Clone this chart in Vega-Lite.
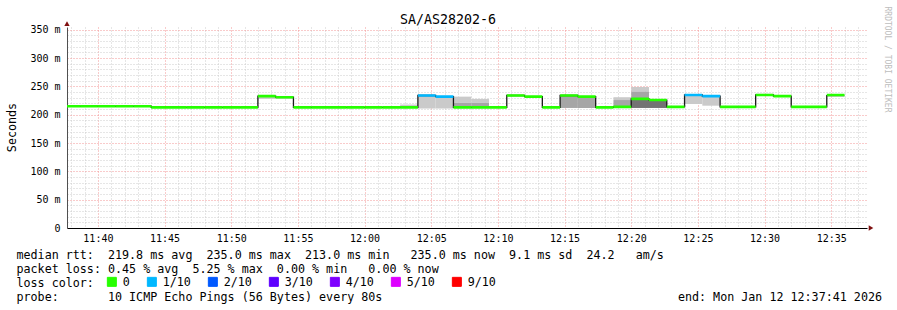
{
  "$schema": "https://vega.github.io/schema/vega-lite/v6.json",
  "width": 800,
  "height": 201,
  "autosize": "none",
  "padding": {"left": 67, "top": 27, "right": 30, "bottom": 82},
  "background": "white",
  "config": {
    "font": "DejaVu Sans Mono",
    "view": {"stroke": null},
    "axis": {"labelFont": "DejaVu Sans Mono", "titleFont": "DejaVu Sans Mono", "labelColor": "black", "titleColor": "black", "titleFontWeight": "normal"},
    "axisX": {"orient": "bottom", "tickCount": 60, "format": "%H:%M", "labelExpr": "minutes(datum.value) % 5 === 0 ? datum.label : ''",
      "grid": true, "gridColor": {"condition": {"test": "minutes(datum.value) % 5 === 0", "value": "#f29696"}, "value": "#cccccc"}, "gridDash": [1, 2],
      "ticks": false, "domain": true, "domainColor": "#000000", "labelFontSize": 10, "labelPadding": 5, "labelFlush": false, "labelOverlap": false,
      "titleX": -51, "titleY": 30, "titleAlign": "left", "titleAnchor": "start", "titleBaseline": "alphabetic", "titleFontSize": 11.7, "titleLineHeight": 14}
  },
  "title": {
    "text": "SA/AS28202-6",
    "font": "DejaVu Sans Mono",
    "fontSize": 13.3,
    "fontWeight": "normal",
    "color": "black",
    "anchor": "middle",
    "baseline": "alphabetic",
    "dx": -19,
    "dy": 35,
    "offset": 4
  },
  "datasets": {
    "rtt": [
      {"t": "2026-01-12T11:37:20", "t2": "2026-01-12T11:38:40", "med": 215, "loss": "0"},
      {"t": "2026-01-12T11:38:40", "t2": "2026-01-12T11:40:00", "med": 215, "loss": "0"},
      {"t": "2026-01-12T11:40:00", "t2": "2026-01-12T11:41:20", "med": 215, "loss": "0"},
      {"t": "2026-01-12T11:41:20", "t2": "2026-01-12T11:42:40", "med": 215, "loss": "0"},
      {"t": "2026-01-12T11:42:40", "t2": "2026-01-12T11:44:00", "med": 215, "loss": "0"},
      {"t": "2026-01-12T11:44:00", "t2": "2026-01-12T11:45:20", "med": 213, "loss": "0"},
      {"t": "2026-01-12T11:45:20", "t2": "2026-01-12T11:46:40", "med": 213, "loss": "0"},
      {"t": "2026-01-12T11:46:40", "t2": "2026-01-12T11:48:00", "med": 213, "loss": "0"},
      {"t": "2026-01-12T11:48:00", "t2": "2026-01-12T11:49:20", "med": 213, "loss": "0"},
      {"t": "2026-01-12T11:49:20", "t2": "2026-01-12T11:50:40", "med": 213, "loss": "0"},
      {"t": "2026-01-12T11:50:40", "t2": "2026-01-12T11:52:00", "med": 213, "loss": "0"},
      {"t": "2026-01-12T11:52:00", "t2": "2026-01-12T11:53:20", "med": 233, "loss": "0"},
      {"t": "2026-01-12T11:53:20", "t2": "2026-01-12T11:54:40", "med": 231, "loss": "0"},
      {"t": "2026-01-12T11:54:40", "t2": "2026-01-12T11:56:00", "med": 213, "loss": "0"},
      {"t": "2026-01-12T11:56:00", "t2": "2026-01-12T11:57:20", "med": 213, "loss": "0"},
      {"t": "2026-01-12T11:57:20", "t2": "2026-01-12T11:58:40", "med": 213, "loss": "0"},
      {"t": "2026-01-12T11:58:40", "t2": "2026-01-12T12:00:00", "med": 213, "loss": "0"},
      {"t": "2026-01-12T12:00:00", "t2": "2026-01-12T12:01:20", "med": 213, "loss": "0"},
      {"t": "2026-01-12T12:01:20", "t2": "2026-01-12T12:02:40", "med": 213, "loss": "0"},
      {"t": "2026-01-12T12:02:40", "t2": "2026-01-12T12:04:00", "med": 213, "loss": "0"},
      {"t": "2026-01-12T12:04:00", "t2": "2026-01-12T12:05:20", "med": 234, "loss": "1/10"},
      {"t": "2026-01-12T12:05:20", "t2": "2026-01-12T12:06:40", "med": 232, "loss": "1/10"},
      {"t": "2026-01-12T12:06:40", "t2": "2026-01-12T12:08:00", "med": 213, "loss": "0"},
      {"t": "2026-01-12T12:08:00", "t2": "2026-01-12T12:09:20", "med": 213, "loss": "0"},
      {"t": "2026-01-12T12:09:20", "t2": "2026-01-12T12:10:40", "med": 213, "loss": "0"},
      {"t": "2026-01-12T12:10:40", "t2": "2026-01-12T12:12:00", "med": 234, "loss": "0"},
      {"t": "2026-01-12T12:12:00", "t2": "2026-01-12T12:13:20", "med": 232, "loss": "0"},
      {"t": "2026-01-12T12:13:20", "t2": "2026-01-12T12:14:40", "med": 213, "loss": "0"},
      {"t": "2026-01-12T12:14:40", "t2": "2026-01-12T12:16:00", "med": 234, "loss": "0"},
      {"t": "2026-01-12T12:16:00", "t2": "2026-01-12T12:17:20", "med": 232, "loss": "0"},
      {"t": "2026-01-12T12:17:20", "t2": "2026-01-12T12:18:40", "med": 213, "loss": "0"},
      {"t": "2026-01-12T12:18:40", "t2": "2026-01-12T12:20:00", "med": 214, "loss": "0"},
      {"t": "2026-01-12T12:20:00", "t2": "2026-01-12T12:21:20", "med": 228, "loss": "0"},
      {"t": "2026-01-12T12:21:20", "t2": "2026-01-12T12:22:40", "med": 226, "loss": "0"},
      {"t": "2026-01-12T12:22:40", "t2": "2026-01-12T12:24:00", "med": 214, "loss": "0"},
      {"t": "2026-01-12T12:24:00", "t2": "2026-01-12T12:25:20", "med": 235, "loss": "1/10"},
      {"t": "2026-01-12T12:25:20", "t2": "2026-01-12T12:26:40", "med": 233, "loss": "1/10"},
      {"t": "2026-01-12T12:26:40", "t2": "2026-01-12T12:28:00", "med": 214, "loss": "0"},
      {"t": "2026-01-12T12:28:00", "t2": "2026-01-12T12:29:20", "med": 214, "loss": "0"},
      {"t": "2026-01-12T12:29:20", "t2": "2026-01-12T12:30:40", "med": 235, "loss": "0"},
      {"t": "2026-01-12T12:30:40", "t2": "2026-01-12T12:32:00", "med": 233, "loss": "0"},
      {"t": "2026-01-12T12:32:00", "t2": "2026-01-12T12:33:20", "med": 214, "loss": "0"},
      {"t": "2026-01-12T12:33:20", "t2": "2026-01-12T12:34:40", "med": 214, "loss": "0"},
      {"t": "2026-01-12T12:34:40", "t2": "2026-01-12T12:36:00", "med": 235, "loss": "0"}
    ],
    "smoke": [
      {"t": "2026-01-12T11:52:00", "t2": "2026-01-12T11:53:20", "lo": 228, "hi": 233, "shade": "light"},
      {"t": "2026-01-12T11:53:20", "t2": "2026-01-12T11:54:40", "lo": 228, "hi": 231, "shade": "light"},
      {"t": "2026-01-12T12:02:40", "t2": "2026-01-12T12:04:00", "lo": 213, "hi": 218, "shade": "light"},
      {"t": "2026-01-12T12:04:00", "t2": "2026-01-12T12:05:20", "lo": 211, "hi": 234, "shade": "light"},
      {"t": "2026-01-12T12:05:20", "t2": "2026-01-12T12:06:40", "lo": 211, "hi": 232, "shade": "light"},
      {"t": "2026-01-12T12:06:40", "t2": "2026-01-12T12:08:00", "lo": 221, "hi": 232, "shade": "light"},
      {"t": "2026-01-12T12:06:40", "t2": "2026-01-12T12:08:00", "lo": 213, "hi": 221, "shade": "mid"},
      {"t": "2026-01-12T12:08:00", "t2": "2026-01-12T12:09:20", "lo": 221, "hi": 228, "shade": "light"},
      {"t": "2026-01-12T12:08:00", "t2": "2026-01-12T12:09:20", "lo": 213, "hi": 221, "shade": "mid"},
      {"t": "2026-01-12T12:14:40", "t2": "2026-01-12T12:16:00", "lo": 212, "hi": 234, "shade": "mid"},
      {"t": "2026-01-12T12:16:00", "t2": "2026-01-12T12:17:20", "lo": 212, "hi": 232, "shade": "mid"},
      {"t": "2026-01-12T12:18:40", "t2": "2026-01-12T12:20:00", "lo": 226, "hi": 231, "shade": "light"},
      {"t": "2026-01-12T12:18:40", "t2": "2026-01-12T12:20:00", "lo": 214, "hi": 226, "shade": "mid"},
      {"t": "2026-01-12T12:20:00", "t2": "2026-01-12T12:21:20", "lo": 241, "hi": 249, "shade": "light"},
      {"t": "2026-01-12T12:20:00", "t2": "2026-01-12T12:21:20", "lo": 228, "hi": 241, "shade": "mid"},
      {"t": "2026-01-12T12:20:00", "t2": "2026-01-12T12:21:20", "lo": 212, "hi": 228, "shade": "dark"},
      {"t": "2026-01-12T12:21:20", "t2": "2026-01-12T12:22:40", "lo": 212, "hi": 226, "shade": "dark"},
      {"t": "2026-01-12T12:24:00", "t2": "2026-01-12T12:25:20", "lo": 219, "hi": 235, "shade": "light"},
      {"t": "2026-01-12T12:25:20", "t2": "2026-01-12T12:26:40", "lo": 216, "hi": 233, "shade": "light"},
      {"t": "2026-01-12T12:29:20", "t2": "2026-01-12T12:30:40", "lo": 234, "hi": 237, "shade": "light"},
      {"t": "2026-01-12T12:34:40", "t2": "2026-01-12T12:36:00", "lo": 232, "hi": 235, "shade": "mid"}
    ]
  },
  "resolve": {"axis": {"y": "independent"}},
  "layer": [
    {
      "data": {"name": "smoke"},
      "mark": {"type": "rect", "clip": true},
      "encoding": {
        "x": {"field": "t", "type": "temporal",
          "scale": {"domain": ["2026-01-12T11:37:41", "2026-01-12T12:37:41"], "nice": false},
          "title": ["median rtt:\u00a0\u00a0219.8 ms avg\u00a0\u00a0235.0 ms max\u00a0\u00a0213.0 ms min\u00a0\u00a0\u00a0235.0 ms now\u00a0\u00a09.1 ms sd\u00a0\u00a024.2\u00a0\u00a0\u00a0am/s", "packet loss: 0.45 % avg\u00a0\u00a05.25 % max\u00a0\u00a00.00 % min\u00a0\u00a0\u00a00.00 % now", "loss color:", "probe:\u00a0\u00a0\u00a0\u00a0\u00a0\u00a0\u00a010 ICMP Echo Pings (56 Bytes) every 80s\u00a0\u00a0\u00a0\u00a0\u00a0\u00a0\u00a0\u00a0\u00a0\u00a0\u00a0\u00a0\u00a0\u00a0\u00a0\u00a0\u00a0\u00a0\u00a0\u00a0\u00a0\u00a0\u00a0\u00a0\u00a0\u00a0\u00a0\u00a0\u00a0\u00a0\u00a0\u00a0\u00a0\u00a0\u00a0\u00a0\u00a0\u00a0\u00a0\u00a0\u00a0\u00a0end: Mon Jan 12 12:37:41 2026"]},
        "x2": {"field": "t2"},
        "y": {"field": "lo", "type": "quantitative",
          "scale": {"domain": [0, 355], "nice": false, "zero": true},
          "axis": {"orient": "right", "grid": false, "labels": false, "ticks": false, "domain": false, "title": "RRDTOOL / TOBI OETIKER", "titleAngle": 90, "titleX": 19, "titleY": 32, "titleAlign": "center", "titleBaseline": "middle", "titleFontSize": 8, "titleColor": "#bdbdbd"}},
        "y2": {"field": "hi"},
        "fill": {"field": "shade", "type": "nominal", "scale": {"domain": ["light", "mid", "dark"], "range": ["#cacaca", "#a6a6a6", "#737373"]}, "legend": null}
      }
    },
    {
      "data": {"name": "rtt"},
      "mark": {"type": "line", "interpolate": "step-after", "color": "#1a1a1a", "strokeWidth": 1.3, "clip": true},
      "encoding": {
        "x": {"field": "t", "type": "temporal",
          "scale": {"domain": ["2026-01-12T11:37:41", "2026-01-12T12:37:41"], "nice": false},
          "title": ["median rtt:\u00a0\u00a0219.8 ms avg\u00a0\u00a0235.0 ms max\u00a0\u00a0213.0 ms min\u00a0\u00a0\u00a0235.0 ms now\u00a0\u00a09.1 ms sd\u00a0\u00a024.2\u00a0\u00a0\u00a0am/s", "packet loss: 0.45 % avg\u00a0\u00a05.25 % max\u00a0\u00a00.00 % min\u00a0\u00a0\u00a00.00 % now", "loss color:", "probe:\u00a0\u00a0\u00a0\u00a0\u00a0\u00a0\u00a010 ICMP Echo Pings (56 Bytes) every 80s\u00a0\u00a0\u00a0\u00a0\u00a0\u00a0\u00a0\u00a0\u00a0\u00a0\u00a0\u00a0\u00a0\u00a0\u00a0\u00a0\u00a0\u00a0\u00a0\u00a0\u00a0\u00a0\u00a0\u00a0\u00a0\u00a0\u00a0\u00a0\u00a0\u00a0\u00a0\u00a0\u00a0\u00a0\u00a0\u00a0\u00a0\u00a0\u00a0\u00a0\u00a0\u00a0end: Mon Jan 12 12:37:41 2026"]},
        "y": {
          "field": "med", "type": "quantitative",
          "scale": {"domain": [0, 355], "nice": false, "zero": true},
          "axis": {"orient": "left", "values": [0, 10, 20, 30, 40, 50, 60, 70, 80, 90, 100, 110, 120, 130, 140, 150, 160, 170, 180, 190, 200, 210, 220, 230, 240, 250, 260, 270, 280, 290, 300, 310, 320, 330, 340, 350],
            "labelExpr": "datum.value % 50 === 0 ? (datum.value === 0 ? '0' : datum.value + ' m') : ''", "labelOverlap": false,
            "grid": true, "gridColor": {"condition": {"test": "datum.value % 50 === 0", "value": "#f29696"}, "value": "#cccccc"}, "gridDash": [1, 2],
            "ticks": false, "domain": true, "domainColor": "#505050", "labelFontSize": 10, "labelPadding": 7,
            "title": "Seconds", "titleX": -56, "titleY": 100, "titleAngle": -90, "titleAlign": "center", "titleBaseline": "middle", "titleFontSize": 11.7}
        }
      }
    },
    {
      "data": {"name": "rtt"},
      "mark": {"type": "rect", "strokeWidth": 2.6, "clip": true},
      "encoding": {
        "x": {"field": "t", "type": "temporal",
          "scale": {"domain": ["2026-01-12T11:37:41", "2026-01-12T12:37:41"], "nice": false},
          "title": ["median rtt:\u00a0\u00a0219.8 ms avg\u00a0\u00a0235.0 ms max\u00a0\u00a0213.0 ms min\u00a0\u00a0\u00a0235.0 ms now\u00a0\u00a09.1 ms sd\u00a0\u00a024.2\u00a0\u00a0\u00a0am/s", "packet loss: 0.45 % avg\u00a0\u00a05.25 % max\u00a0\u00a00.00 % min\u00a0\u00a0\u00a00.00 % now", "loss color:", "probe:\u00a0\u00a0\u00a0\u00a0\u00a0\u00a0\u00a010 ICMP Echo Pings (56 Bytes) every 80s\u00a0\u00a0\u00a0\u00a0\u00a0\u00a0\u00a0\u00a0\u00a0\u00a0\u00a0\u00a0\u00a0\u00a0\u00a0\u00a0\u00a0\u00a0\u00a0\u00a0\u00a0\u00a0\u00a0\u00a0\u00a0\u00a0\u00a0\u00a0\u00a0\u00a0\u00a0\u00a0\u00a0\u00a0\u00a0\u00a0\u00a0\u00a0\u00a0\u00a0\u00a0\u00a0end: Mon Jan 12 12:37:41 2026"]},
        "x2": {"field": "t2"},
        "y": {"field": "med", "type": "quantitative", "axis": null, "scale": {"domain": [0, 355], "nice": false, "zero": true}},
        "y2": {"field": "med"},
        "color": {
          "field": "loss", "type": "nominal",
          "scale": {"domain": ["0", "1/10", "2/10", "3/10", "4/10", "5/10", "9/10"], "range": ["#26ff00", "#00b8ff", "#0059ff", "#5e00ff", "#7e00ff", "#dd00ff", "#ff0000"]},
          "legend": {"orient": "none", "legendX": 39, "legendY": 249, "direction": "horizontal", "columns": 7, "gridAlign": "none", "title": null, "symbolType": "square", "symbolSize": 81, "symbolStrokeColor": "black", "symbolStrokeWidth": 1, "labelFont": "DejaVu Sans Mono", "labelFontSize": 11.7, "labelColor": "black", "labelOffset": 5, "columnPadding": 15, "padding": 0,
            "encode": {"symbols": {"update": {"stroke": {"value": "black"}, "strokeWidth": {"value": 1}}}}}
        },
        "stroke": {
          "field": "loss", "type": "nominal",
          "scale": {"domain": ["0", "1/10", "2/10", "3/10", "4/10", "5/10", "9/10"], "range": ["#26ff00", "#00b8ff", "#0059ff", "#5e00ff", "#7e00ff", "#dd00ff", "#ff0000"]},
          "legend": null
        }
      }
    },
    {
      "data": {"values": [{}]},
      "mark": {"type": "point", "shape": "triangle-up", "filled": true, "color": "#7f1010", "size": 28, "opacity": 1, "clip": false},
      "encoding": {
        "x": {"datum": {"expr": "datetime(2026, 0, 12, 11, 37, 41)"}, "type": "temporal",
          "scale": {"domain": ["2026-01-12T11:37:41", "2026-01-12T12:37:41"], "nice": false},
          "title": ["median rtt:\u00a0\u00a0219.8 ms avg\u00a0\u00a0235.0 ms max\u00a0\u00a0213.0 ms min\u00a0\u00a0\u00a0235.0 ms now\u00a0\u00a09.1 ms sd\u00a0\u00a024.2\u00a0\u00a0\u00a0am/s", "packet loss: 0.45 % avg\u00a0\u00a05.25 % max\u00a0\u00a00.00 % min\u00a0\u00a0\u00a00.00 % now", "loss color:", "probe:\u00a0\u00a0\u00a0\u00a0\u00a0\u00a0\u00a010 ICMP Echo Pings (56 Bytes) every 80s\u00a0\u00a0\u00a0\u00a0\u00a0\u00a0\u00a0\u00a0\u00a0\u00a0\u00a0\u00a0\u00a0\u00a0\u00a0\u00a0\u00a0\u00a0\u00a0\u00a0\u00a0\u00a0\u00a0\u00a0\u00a0\u00a0\u00a0\u00a0\u00a0\u00a0\u00a0\u00a0\u00a0\u00a0\u00a0\u00a0\u00a0\u00a0\u00a0\u00a0\u00a0\u00a0end: Mon Jan 12 12:37:41 2026"]},
        "y": {"datum": 361, "type": "quantitative", "axis": null, "scale": {"domain": [0, 355], "nice": false, "zero": true}}
      }
    },
    {
      "data": {"values": [{}]},
      "mark": {"type": "point", "shape": "triangle-right", "filled": true, "color": "#7f1010", "size": 28, "opacity": 1, "clip": false},
      "encoding": {
        "x": {"datum": {"expr": "datetime(2026, 0, 12, 12, 37, 59)"}, "type": "temporal",
          "scale": {"domain": ["2026-01-12T11:37:41", "2026-01-12T12:37:41"], "nice": false},
          "title": ["median rtt:\u00a0\u00a0219.8 ms avg\u00a0\u00a0235.0 ms max\u00a0\u00a0213.0 ms min\u00a0\u00a0\u00a0235.0 ms now\u00a0\u00a09.1 ms sd\u00a0\u00a024.2\u00a0\u00a0\u00a0am/s", "packet loss: 0.45 % avg\u00a0\u00a05.25 % max\u00a0\u00a00.00 % min\u00a0\u00a0\u00a00.00 % now", "loss color:", "probe:\u00a0\u00a0\u00a0\u00a0\u00a0\u00a0\u00a010 ICMP Echo Pings (56 Bytes) every 80s\u00a0\u00a0\u00a0\u00a0\u00a0\u00a0\u00a0\u00a0\u00a0\u00a0\u00a0\u00a0\u00a0\u00a0\u00a0\u00a0\u00a0\u00a0\u00a0\u00a0\u00a0\u00a0\u00a0\u00a0\u00a0\u00a0\u00a0\u00a0\u00a0\u00a0\u00a0\u00a0\u00a0\u00a0\u00a0\u00a0\u00a0\u00a0\u00a0\u00a0\u00a0\u00a0end: Mon Jan 12 12:37:41 2026"]},
        "y": {"datum": 0, "type": "quantitative", "axis": null, "scale": {"domain": [0, 355], "nice": false, "zero": true}}
      }
    }
  ]
}
